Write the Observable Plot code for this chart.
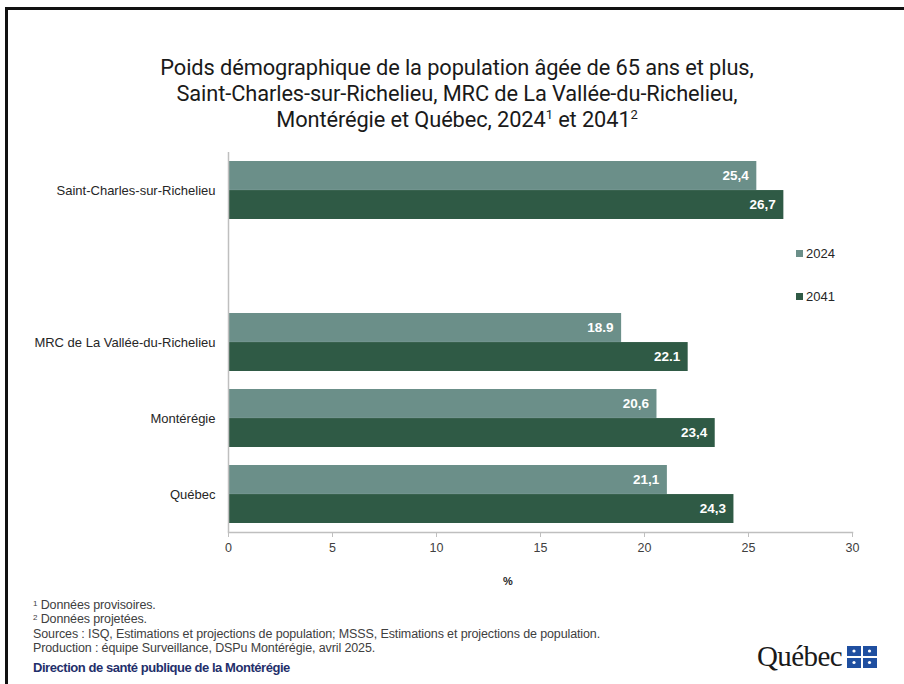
<!DOCTYPE html>
<html><head><meta charset="utf-8">
<script src="https://cdn.jsdelivr.net/npm/d3@7"></script>
<script src="https://cdn.jsdelivr.net/npm/@observablehq/plot@0.6"></script>
<style>
body{margin:0;background:#fff;width:904px;height:684px;overflow:hidden;position:relative;font-family:"Liberation Sans",Arial,sans-serif}
#frame{position:absolute;left:5px;top:7px;width:920px;height:700px;border-top:3px solid #111;border-left:3px solid #111;box-sizing:border-box}
#title{position:absolute;top:55px;left:0;width:914px;text-align:center;font-family:Roboto,sans-serif;font-size:21.8px;line-height:26px;color:#1a1a1a;letter-spacing:-0.1px}
#title sup{font-size:13px;vertical-align:0;position:relative;top:-8px;line-height:0}
#chart{position:absolute;top:140px;left:0}
#xlabel{position:absolute;top:575px;left:503px;font-size:11px;font-weight:bold;color:#262626}
.leg{position:absolute;left:796px;font-size:13px;color:#262626;display:flex;align-items:center;gap:3px}
.leg span.sw{display:inline-block;width:7px;height:7px}
#foot{position:absolute;left:33px;top:598px;font-size:12.5px;line-height:14.3px;color:#404040;font-family:"Liberation Sans",Arial,sans-serif;letter-spacing:-0.12px}
#foot div{height:14.3px;white-space:nowrap}
#foot sup{font-size:8px;vertical-align:0;position:relative;top:-3px;line-height:0}
#dsp{position:absolute;left:33px;top:660px;font-size:13px;color:#1f2f6b;font-weight:bold;letter-spacing:-0.45px}
#logo{position:absolute;left:757px;top:640px;display:flex;align-items:center;gap:5px}
#logo .q{font-family:"Liberation Serif","DejaVu Serif",serif;font-size:29px;color:#1a1a1a;letter-spacing:-0.6px}
</style></head>
<body>
<div id="frame"></div>
<div id="title">Poids démographique de la population âgée de 65 ans et plus,<br>Saint-Charles-sur-Richelieu, MRC de La Vallée-du-Richelieu,<br>Montérégie et Québec, 2024<sup>1</sup> et 2041<sup>2</sup></div>
<div id="chart"></div>
<div id="xlabel">%</div>
<div id="legend"></div>
<div id="foot"><div><sup>1</sup> Données provisoires.</div><div><sup>2</sup> Données projetées.</div><div>Sources : ISQ, Estimations et projections de population; MSSS, Estimations et projections de population.</div><div>Production : équipe Surveillance, DSPu Montérégie, avril 2025.</div></div>
<div id="dsp">Direction de santé publique de la Montérégie</div>
<div id="logo"><span class="q">Québec</span>
<svg width="30" height="22" viewBox="0 0 30 22">
<rect x="0" y="0" width="30" height="22" fill="#1f4fa0"/>
<rect x="14" y="0" width="2" height="22" fill="#fff"/>
<rect x="0" y="10" width="30" height="2" fill="#fff"/>
<g fill="#fff"><circle cx="7" cy="5" r="1.6"/><circle cx="22.5" cy="5" r="1.6"/><circle cx="7" cy="16.5" r="1.6"/><circle cx="22.5" cy="16.5" r="1.6"/></g>
</svg></div>
<script>
const categories = ["Saint-Charles-sur-Richelieu", " ", "MRC de La Vallée-du-Richelieu", "Montérégie", "Québec"];
const regions = ["Saint-Charles-sur-Richelieu", "MRC de La Vallée-du-Richelieu", "Montérégie", "Québec"];
const values2024 = [25.4, 18.9, 20.6, 21.1];
const values2041 = [26.7, 22.1, 23.4, 24.3];
const labels2024 = ["25,4", "18.9", "20,6", "21,1"];
const labels2041 = ["26,7", "22.1", "23,4", "24,3"];
const xTicks = [0, 5, 10, 15, 20, 25, 30];
const years = ["2024", "2041"];
const colors = ["#6b8f89", "#2f5a45"];

const d2024 = regions.map((r, i) => ({region: r, value: values2024[i], label: labels2024[i]}));
const d2041 = regions.map((r, i) => ({region: r, value: values2041[i], label: labels2041[i]}));

const W = 904, H = 455, mT = 12, mB = 63, mL = 228, mR = 52;
const pIn = 0.24, pOut = 0.105;
const step = (H - mT - mB) / (categories.length - pIn + 2 * pOut);
const bw = step * (1 - pIn);
const half = bw / 2;

const plot = Plot.plot({
  width: W, height: H,
  marginTop: mT, marginBottom: mB, marginLeft: mL, marginRight: mR,
  style: {fontFamily: "'Liberation Sans', Arial, sans-serif", background: "transparent"},
  x: {domain: [0, 30]},
  y: {domain: categories, paddingInner: pIn, paddingOuter: pOut, align: 0.5},
  marks: [
    Plot.barX(d2024, {x: "value", y: "region", fill: colors[0], insetBottom: half}),
    Plot.barX(d2041, {x: "value", y: "region", fill: colors[1], insetTop: half}),
    Plot.text(d2024, {x: "value", y: "region", text: "label", textAnchor: "end", dx: -8, dy: -half / 2, fill: "white", fontSize: 13.5, fontWeight: 600}),
    Plot.text(d2041, {x: "value", y: "region", text: "label", textAnchor: "end", dx: -8, dy: half / 2, fill: "white", fontSize: 13.5, fontWeight: 600}),
    Plot.ruleX([0], {stroke: "#bfbfbf", strokeWidth: 1.5}),
    Plot.frame({anchor: "bottom", stroke: "#bfbfbf", strokeWidth: 1.5}),
    Plot.axisX(xTicks, {tickSize: 5, tickPadding: 6, stroke: "#bfbfbf", fill: "#404040", fontSize: 12.5, label: null}),
    Plot.axisY({tickSize: 0, tickPadding: 13, fill: "#262626", fontSize: 13, label: null})
  ]
});
document.getElementById("chart").appendChild(plot);

const legendTops = [246, 289];
const lg = document.getElementById("legend");
years.forEach((y, i) => {
  const d = document.createElement("div");
  d.className = "leg";
  d.style.top = legendTops[i] + "px";
  d.innerHTML = `<span class="sw" style="background:${colors[i]}"></span><span>${y}</span>`;
  lg.appendChild(d);
});
</script>
</body></html>
